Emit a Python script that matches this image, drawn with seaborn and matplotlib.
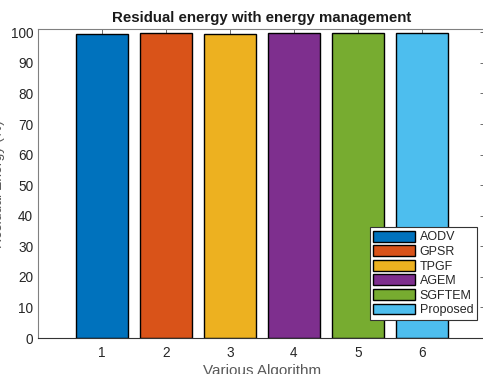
import pandas as pd
import matplotlib
matplotlib.use("Agg")
import matplotlib.pyplot as plt
import seaborn as sns

# ---- data ----
algorithms = ['AODV', 'GPSR', 'TPGF', 'AGEM', 'SGFTEM', 'Proposed']
positions = ['1', '2', '3', '4', '5', '6']
residual_energy = [99.4, 99.7, 99.6, 99.7, 99.7, 99.9]
colors = ['#0072BD', '#D95319', '#EDB120', '#7E2F8E', '#77AC30', '#4DBEEE']

df = pd.DataFrame({'pos': positions, 'algo': algorithms, 'energy': residual_energy})

sns.set_style('white')
plt.rcParams['font.family'] = ['Liberation Sans', 'DejaVu Sans']

fig = plt.figure(figsize=(4.83, 3.74), dpi=100)
# axes runs a little past the right edge, like the cropped original
ax = fig.add_axes([38 / 483, 36 / 374, 448 / 483, 308.7 / 374])

sns.barplot(data=df, x='pos', y='energy', hue='algo', hue_order=algorithms,
            palette=colors, dodge=False, width=0.8, edgecolor='black',
            linewidth=1.0, saturation=1, ax=ax)

ax.set_xlim(-1, 6)
ax.set_ylim(0, 101)
ax.set_yticks(range(0, 101, 10))

grey = '#808080'
for s in ax.spines.values():
    s.set_color(grey)
    s.set_linewidth(0.8)
ax.spines['bottom'].set_color('#333333')
ax.tick_params(direction='in', length=4, width=0.6, color='#555555',
               labelsize=9.8, labelcolor='#262626', top=True, right=True)
ax.tick_params(axis='x', pad=6)

ax.set_title('Residual energy with energy management', fontsize=10.8,
             fontweight='bold', color='#1a1a1a', pad=5)
ax.set_xlabel('Various Algorithm', fontsize=11, color='#595959', labelpad=3)
ax.set_ylabel('Residual Energy (%)', fontsize=10, color='#595959')
ax.yaxis.set_label_coords(-0.0737, 0.5)

leg = ax.legend(loc='lower right', bbox_to_anchor=(477 / 483, 54 / 374),
                bbox_transform=fig.transFigure, borderaxespad=0,
                fontsize=9, handlelength=3.3, handleheight=0.95,
                labelspacing=0.15, handletextpad=0.4, borderpad=0.3,
                fancybox=False, framealpha=1)
leg.get_frame().set_edgecolor('#333333')
leg.get_frame().set_linewidth(0.8)
for t in leg.get_texts():
    t.set_color('#262626')

fig.savefig('out.png', dpi=100)
